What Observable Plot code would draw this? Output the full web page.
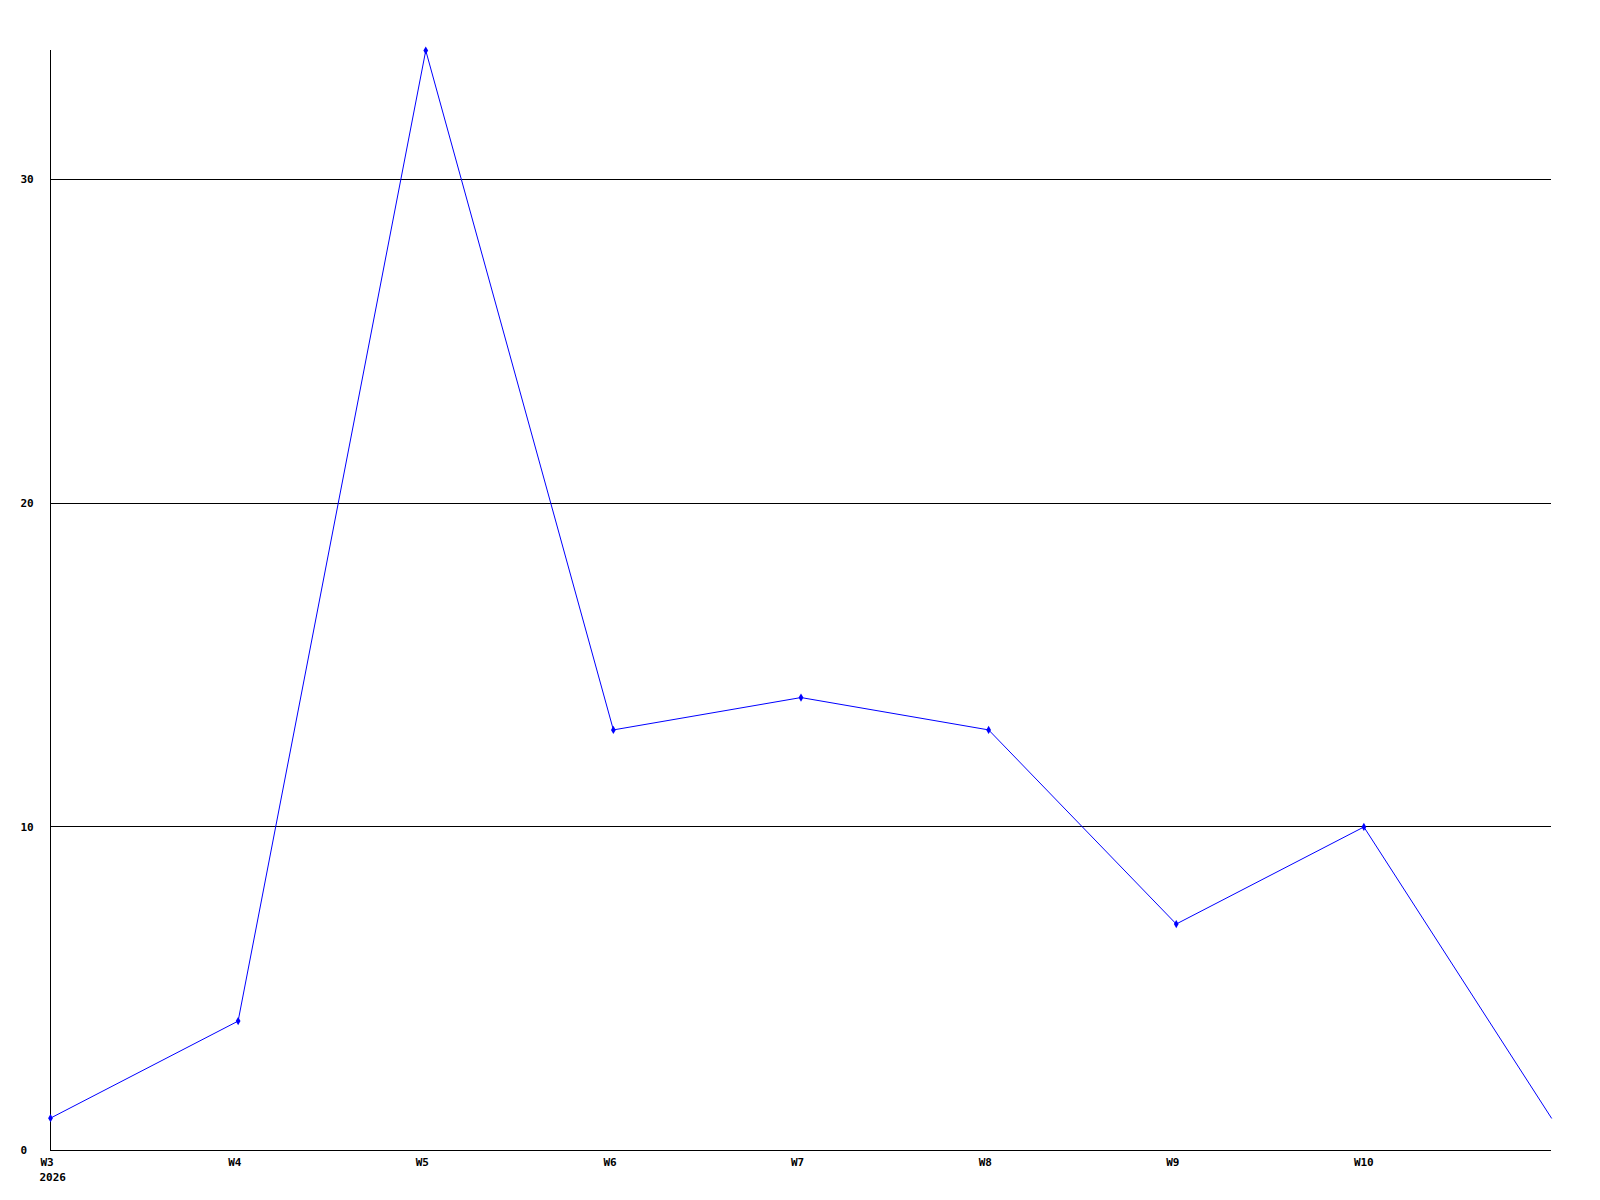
<!DOCTYPE html>
<html>
<head>
<meta charset="utf-8">
<script src="https://cdn.jsdelivr.net/npm/d3@7"></script>
<script src="https://cdn.jsdelivr.net/npm/@observablehq/plot@0.6"></script>
<style>
  html, body { margin: 0; padding: 0; background: #fff; overflow: hidden; }
  #chart svg { display: block; }
</style>
</head>
<body>
<div id="chart"></div>
<script>
const weeks = ["W3", "W4", "W5", "W6", "W7", "W8", "W9", "W10", "W11"];
const counts = [1, 4, 34, 13, 14, 13, 7, 10, 1];
const xTickLabels = ["W3", "W4", "W5", "W6", "W7", "W8", "W9", "W10"];
const yTicks = [0, 10, 20, 30];
const gridValues = [10, 20, 30];
const yearLabel = "2026";

const data = weeks.map((w, i) => ({week: w, value: counts[i]}));
const markedData = data.filter(d => xTickLabels.includes(d.week));
const font = "'DejaVu Sans Mono', monospace";

const chart = Plot.plot({
  width: 1600,
  height: 1200,
  marginLeft: 50,
  marginRight: 49,
  marginTop: 50,
  marginBottom: 50,
  style: {fontFamily: font, fontSize: "11px", fontWeight: "bold", background: "#fff", color: "#000"},
  x: {type: "point", domain: weeks, padding: 0, round: false},
  y: {domain: [0, 34]},
  marks: [
    Plot.ruleY(gridValues, {stroke: "#000", strokeWidth: 1, shapeRendering: "crispEdges"}),
    Plot.ruleY([0], {stroke: "#000", strokeWidth: 1, shapeRendering: "crispEdges"}),
    Plot.ruleX([weeks[0]], {stroke: "#000", strokeWidth: 1, shapeRendering: "crispEdges"}),
    Plot.axisX(xTickLabels, {tickSize: 0, tickPadding: 8, label: null, fontWeight: "bold", textAnchor: "start", dx: -10}),
    Plot.axisY(yTicks, {tickSize: 0, tickPadding: 30, label: null, fontWeight: "bold", textAnchor: "start"}),
    Plot.text([{week: weeks[0], label: yearLabel}], {
      x: "week", y: () => 0, text: "label", dy: 27, dx: -11, textAnchor: "start", fontWeight: "bold"
    }),
    Plot.line(data, {x: "week", y: "value", stroke: "#0000ff", strokeWidth: 1}),
    Plot.dot(markedData, {x: "week", y: "value", symbol: "diamond", r: 2.5, fill: "#0000ff", stroke: "none"})
  ]
});
document.getElementById("chart").appendChild(chart);
</script>
</body>
</html>
